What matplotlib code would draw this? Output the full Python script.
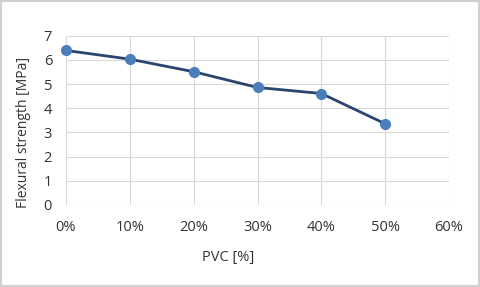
import matplotlib
matplotlib.use('Agg')
import matplotlib.pyplot as plt
from matplotlib.patches import Rectangle
from matplotlib.ticker import FuncFormatter

# data
pvc = [0, 10, 20, 30, 40, 50]
strength = [6.39, 6.03, 5.51, 4.86, 4.61, 3.36]

plt.rcParams['font.family'] = ['Open Sans', 'DejaVu Sans']

fig = plt.figure(figsize=(4.8, 2.87), dpi=100)
ax = fig.add_axes([66 / 480, 1 - 205 / 287, (449 - 66) / 480, (205 - 35.7) / 287])

ax.plot(pvc, strength, color='#2B4570', linewidth=2, marker='o', markersize=7,
        markerfacecolor='#4A7EBB', markeredgecolor='#4A7EBB', zorder=3, clip_on=False)

ax.set_xlim(0, 60)
ax.set_ylim(0, 7)
ax.set_xticks(range(0, 61, 10))
ax.set_yticks(range(0, 8))
ax.xaxis.set_major_formatter(FuncFormatter(lambda v, p: f'{int(v)}%'))
ax.grid(True, color='#D9D9D9', linewidth=0.8)
ax.set_axisbelow(True)
for s in ax.spines.values():
    s.set_visible(False)
ax.tick_params(length=0, labelsize=10.5, colors='#333333')
ax.tick_params(axis='x', pad=11)
ax.tick_params(axis='y', pad=10)

fig.text(228 / 480, 1 - 258 / 287, 'PVC [%]', ha='center', va='center', fontsize=10.5, color='#333333')
fig.text(24 / 480, 1 - 132 / 287, 'Flexural strength [MPa]', ha='center', va='center',
         rotation=90, fontsize=10, color='#333333')

fig.patches.append(Rectangle((0.002, 0.003), 0.996, 0.994, transform=fig.transFigure,
                             fill=False, edgecolor='#D0D0D0', linewidth=1.5))

fig.savefig('out.png', dpi=100)
